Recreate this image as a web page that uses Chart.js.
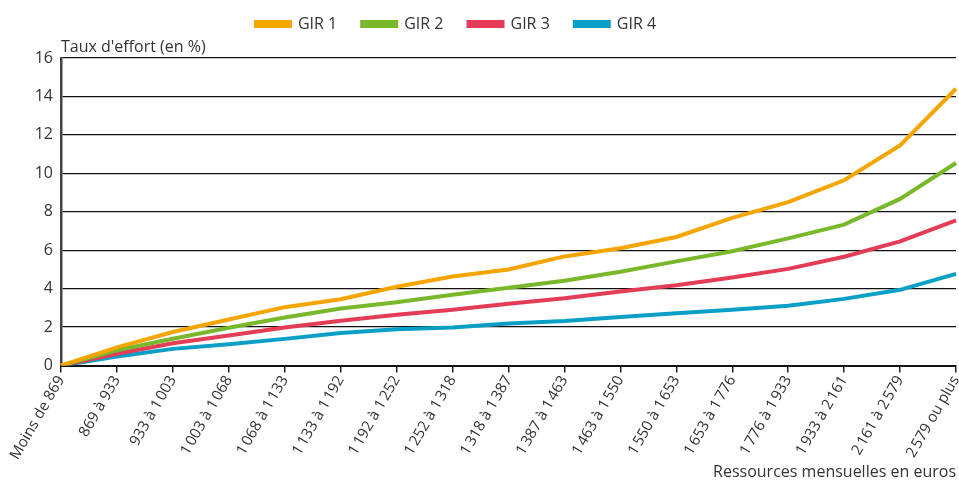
<!DOCTYPE html>
<html>
<head>
<meta charset="utf-8">
<script src="https://cdn.jsdelivr.net/npm/chart.js@4/dist/chart.umd.min.js"></script>
<style>
  html, body { margin: 0; padding: 0; background: #fff; }
  #wrap { width: 959px; height: 484px; position: relative; }
</style>
</head>
<body>
<div id="wrap"><canvas id="graph"></canvas></div>
<script>
// tranches de ressources (axe x)
var tranches = [
  'Moins de 869', '869 à 933', '933 à 1\u202f003', '1\u202f003 à 1\u202f068',
  '1\u202f068 à 1\u202f133', '1\u202f133 à 1\u202f192', '1\u202f192 à 1\u202f252',
  '1\u202f252 à 1\u202f318', '1\u202f318 à 1\u202f387', '1\u202f387 à 1\u202f463',
  '1\u202f463 à 1\u202f550', '1\u202f550 à 1\u202f653', '1\u202f653 à 1\u202f776',
  '1\u202f776 à 1\u202f933', '1\u202f933 à 2\u202f161', '2\u202f161 à 2\u202f579',
  '2\u202f579 ou plus'
];

// taux d'effort
var gir1 = [0, 0.95, 1.75, 2.4, 3.04, 3.45, 4.1, 4.63, 5.0, 5.68, 6.1, 6.69, 7.68, 8.5, 9.64, 11.45, 14.4];
var gir2 = [0, 0.8, 1.4, 1.97, 2.5, 2.97, 3.3, 3.68, 4.05, 4.41, 4.88, 5.42, 5.95, 6.62, 7.33, 8.67, 10.54];
var gir3 = [0, 0.62, 1.16, 1.56, 1.98, 2.33, 2.64, 2.9, 3.22, 3.5, 3.85, 4.18, 4.58, 5.03, 5.66, 6.46, 7.55];
var gir4 = [0, 0.47, 0.87, 1.11, 1.39, 1.7, 1.89, 1.98, 2.19, 2.32, 2.53, 2.72, 2.9, 3.11, 3.47, 3.94, 4.77];

var yTicks = [0, 2, 4, 6, 8, 10, 12, 14, 16];

var police = "'Open Sans', 'Noto Sans', sans-serif";
var texte = '#333333';

// plugin: titre de l'axe y horizontal au-dessus de l'axe
var titreY = {
  id: 'titreY',
  afterDraw: function(chart) {
    var ctx = chart.ctx;
    ctx.save();
    ctx.font = '16px ' + police;
    ctx.fillStyle = texte;
    ctx.textAlign = 'left';
    ctx.textBaseline = 'bottom';
    ctx.fillText("Taux d'effort (en %)", chart.chartArea.left, chart.chartArea.top - 3);
    ctx.restore();
  }
};

// plugin: plus d'espace sous la légende, légende un peu à gauche
var margeLegende = {
  id: 'margeLegende',
  beforeInit: function(chart) {
    var fit = chart.legend.fit;
    chart.legend.fit = function() {
      fit.bind(chart.legend)();
      this.height += 12;
    };
    var draw = chart.legend.draw;
    chart.legend.draw = function() {
      var c = chart.ctx;
      c.save();
      c.translate(-24, -4);
      draw.bind(chart.legend)();
      c.restore();
    };
  }
};

function serie(nom, valeurs, couleur) {
  return {
    label: nom,
    data: valeurs,
    borderColor: couleur,
    backgroundColor: couleur,
    borderWidth: 4,
    pointRadius: 0,
    tension: 0,
    fill: false
  };
}

var ctx = document.getElementById('graph');
var myChart = new Chart(ctx, {
  type: 'line',
  data: {
    labels: tranches,
    datasets: [
      serie('GIR 1', gir1, '#f5a500'),
      serie('GIR 2', gir2, '#78b82a'),
      serie('GIR 3', gir3, '#e43c57'),
      serie('GIR 4', gir4, '#0a9fc6')
    ]
  },
  options: {
    responsive: true,
    maintainAspectRatio: false,
    animation: false,
    layout: { padding: { top: -5, right: 3, left: 4, bottom: 2 } },
    plugins: {
      legend: {
        position: 'top',
        labels: {
          font: { size: 16, family: police },
          color: texte,
          boxWidth: 34,
          boxHeight: 4,
          padding: 25
        }
      },
      tooltip: { enabled: false }
    },
    scales: {
      x: {
        offset: false,
        afterFit: function(s) {
          s.paddingLeft = 0;
          s.paddingRight = 0;
        },
        grid: {
          display: true,
          drawOnChartArea: false,
          drawTicks: true,
          tickLength: 7,
          color: '#222',
          lineWidth: 1.5
        },
        border: { color: '#111', width: 2 },
        ticks: {
          autoSkip: false,
          minRotation: 60,
          maxRotation: 60,
          padding: 0,
          font: { size: 15, family: police },
          color: texte
        },
        title: {
          display: true,
          text: 'Ressources mensuelles en euros',
          align: 'end',
          font: { size: 16, family: police },
          color: texte,
          padding: { top: 0, bottom: 0 }
        }
      },
      y: {
        min: 0,
        max: 16,
        afterBuildTicks: function(axis) {
          axis.ticks = yTicks.map(function(v) { return { value: v }; });
        },
        afterFit: function(s) {
          s.width = 57;
        },
        grid: {
          color: '#111',
          lineWidth: 1.3,
          drawTicks: false
        },
        border: { color: '#444', width: 2.5 },
        ticks: {
          padding: 8,
          font: { size: 16, family: police },
          color: texte
        }
      }
    }
  },
  plugins: [titreY, margeLegende]
});
</script>
</body>
</html>
